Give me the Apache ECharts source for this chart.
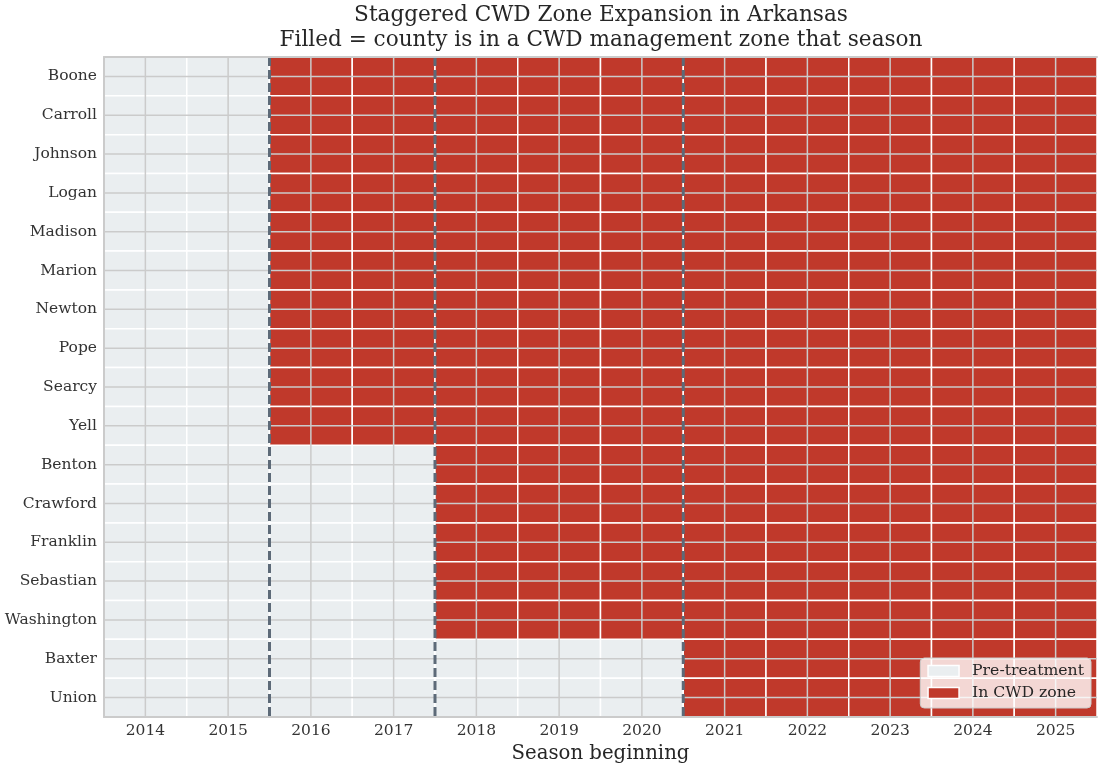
<!DOCTYPE html>
<html>
<head>
<meta charset="utf-8">
<title>Staggered CWD Zone Expansion in Arkansas</title>
<script src="https://cdn.jsdelivr.net/npm/echarts@6/dist/echarts.min.js"></script>
<style>
  html, body { margin: 0; padding: 0; background: #ffffff; }
  #chart { width: 1098px; height: 768px; }
</style>
</head>
<body>
<div id="chart"></div>
<script>
// Hunting seasons shown on the x axis
const years = ['2014', '2015', '2016', '2017', '2018', '2019', '2020', '2021', '2022', '2023', '2024', '2025'];

// Counties, top to bottom, grouped by the season they entered a CWD zone
const counties = ['Boone', 'Carroll', 'Johnson', 'Logan', 'Madison', 'Marion', 'Newton', 'Pope',
  'Searcy', 'Yell', 'Benton', 'Crawford', 'Franklin', 'Sebastian', 'Washington', 'Baxter', 'Union'];

// First season each county was inside a CWD management zone
const zoneStart = [2016, 2016, 2016, 2016, 2016, 2016, 2016, 2016,
  2016, 2016, 2018, 2018, 2018, 2018, 2018, 2021, 2021];

const SERIF = '"DejaVu Serif", "Liberation Serif", serif';
const PALE = '#eaeef0';
const RED = '#c0392b';
const GRID = '#cbcbcb';
const DASH = '#5d6a78';

// Split every county-season cell into pre-treatment or in-zone
const preCells = [];
const zoneCells = [];
counties.forEach(function (c, ci) {
  years.forEach(function (y) {
    (Number(y) >= zoneStart[ci] ? zoneCells : preCells).push([y, c]);
  });
});

// Distinct adoption seasons, marked by a dashed boundary
const cohorts = Array.from(new Set(zoneStart)).sort();

function cellItem(params, api) {
  const c = api.coord([api.value(0), api.value(1)]);
  const s = api.size([1, 1]);
  return {
    type: 'rect',
    shape: { x: c[0] - s[0] / 2, y: c[1] - s[1] / 2, width: s[0], height: s[1] },
    style: { fill: api.visual('color'), stroke: '#ffffff', lineWidth: 1.5 }
  };
}

function vLine(params, api) {
  const cs = params.coordSys;
  const x = api.coord([api.value(0), counties[0]])[0];
  return {
    type: 'line',
    shape: { x1: x, y1: cs.y, x2: x, y2: cs.y + cs.height },
    style: { stroke: GRID, lineWidth: 1.5 }
  };
}

function hLine(params, api) {
  const cs = params.coordSys;
  const y = api.coord([years[0], api.value(1)])[1];
  return {
    type: 'line',
    shape: { x1: cs.x, y1: y, x2: cs.x + cs.width, y2: y },
    style: { stroke: GRID, lineWidth: 1.5 }
  };
}

function cohortLine(params, api) {
  const cs = params.coordSys;
  const x = api.coord([api.value(0), counties[0]])[0] - api.size([1, 0])[0] / 2;
  return {
    type: 'line',
    shape: { x1: x, y1: cs.y, x2: x, y2: cs.y + cs.height },
    style: { stroke: DASH, lineWidth: 3, lineDash: [9, 4] }
  };
}

const chart = echarts.init(document.getElementById('chart'), null, { renderer: 'canvas' });

chart.setOption({
  animation: false,
  backgroundColor: '#ffffff',
  title: {
    text: 'Staggered CWD Zone Expansion in Arkansas\nFilled = county is in a CWD management zone that season',
    left: 601,
    textAlign: 'center',
    top: 3,
    padding: 0,
    textStyle: { fontFamily: SERIF, fontSize: 21.6, fontWeight: 'normal', color: '#262626', lineHeight: 25 }
  },
  legend: {
    orient: 'vertical',
    right: 7,
    bottom: 60,
    itemWidth: 31,
    itemHeight: 11,
    itemGap: 6,
    padding: [5, 7, 7, 7],
    backgroundColor: 'rgba(255,255,255,0.8)',
    borderColor: '#cccccc',
    borderWidth: 1,
    borderRadius: 4,
    textStyle: { fontFamily: SERIF, fontSize: 15.7, color: '#262626', padding: [0, 0, 0, 8] },
    data: [
      { name: 'Pre-treatment', icon: 'rect', itemStyle: { color: PALE, borderColor: '#ffffff', borderWidth: 1.5 } },
      { name: 'In CWD zone', icon: 'rect', itemStyle: { color: RED, borderColor: '#ffffff', borderWidth: 1.5 } }
    ]
  },
  grid: { left: 104, right: 1, top: 57, bottom: 51, containLabel: false, outerBoundsMode: 'none' },
  xAxis: [{
    type: 'category',
    data: years,
    boundaryGap: true,
    z: 5,
    name: 'Season beginning',
    nameLocation: 'middle',
    nameGap: 27,
    nameTextStyle: { fontFamily: SERIF, fontSize: 19.7, color: '#262626' },
    axisLine: { show: true, lineStyle: { color: GRID, width: 2 } },
    axisTick: { show: false },
    splitLine: { show: false },
    axisLabel: { fontFamily: SERIF, fontSize: 15.5, color: '#333333', margin: 6 }
  }, {
    type: 'category',
    data: years,
    position: 'top',
    z: 5,
    axisLine: { show: true, lineStyle: { color: GRID, width: 2 } },
    axisTick: { show: false },
    axisLabel: { show: false },
    splitLine: { show: false }
  }],
  yAxis: {
    type: 'category',
    data: counties,
    inverse: true,
    boundaryGap: true,
    z: 5,
    axisLine: { show: true, lineStyle: { color: GRID, width: 2 } },
    axisTick: { show: false },
    splitLine: { show: false },
    axisLabel: { fontFamily: SERIF, fontSize: 15.5, color: '#333333', margin: 7 }
  },
  series: [
    {
      name: 'Pre-treatment',
      type: 'custom',
      renderItem: cellItem,
      itemStyle: { color: PALE },
      data: preCells,
      z: 2
    },
    {
      name: 'In CWD zone',
      type: 'custom',
      renderItem: cellItem,
      itemStyle: { color: RED },
      data: zoneCells,
      z: 2
    },
    {
      name: 'season grid',
      type: 'custom',
      renderItem: vLine,
      data: years.map(function (y) { return [y, counties[0]]; }),
      silent: true,
      z: 3
    },
    {
      name: 'county grid',
      type: 'custom',
      renderItem: hLine,
      data: counties.map(function (c) { return [years[0], c]; }),
      silent: true,
      z: 3
    },
    {
      name: 'cohort start',
      type: 'custom',
      renderItem: cohortLine,
      data: cohorts.map(function (y) { return [String(y), counties[0]]; }),
      silent: true,
      z: 4
    }
  ]
});
</script>
</body>
</html>
